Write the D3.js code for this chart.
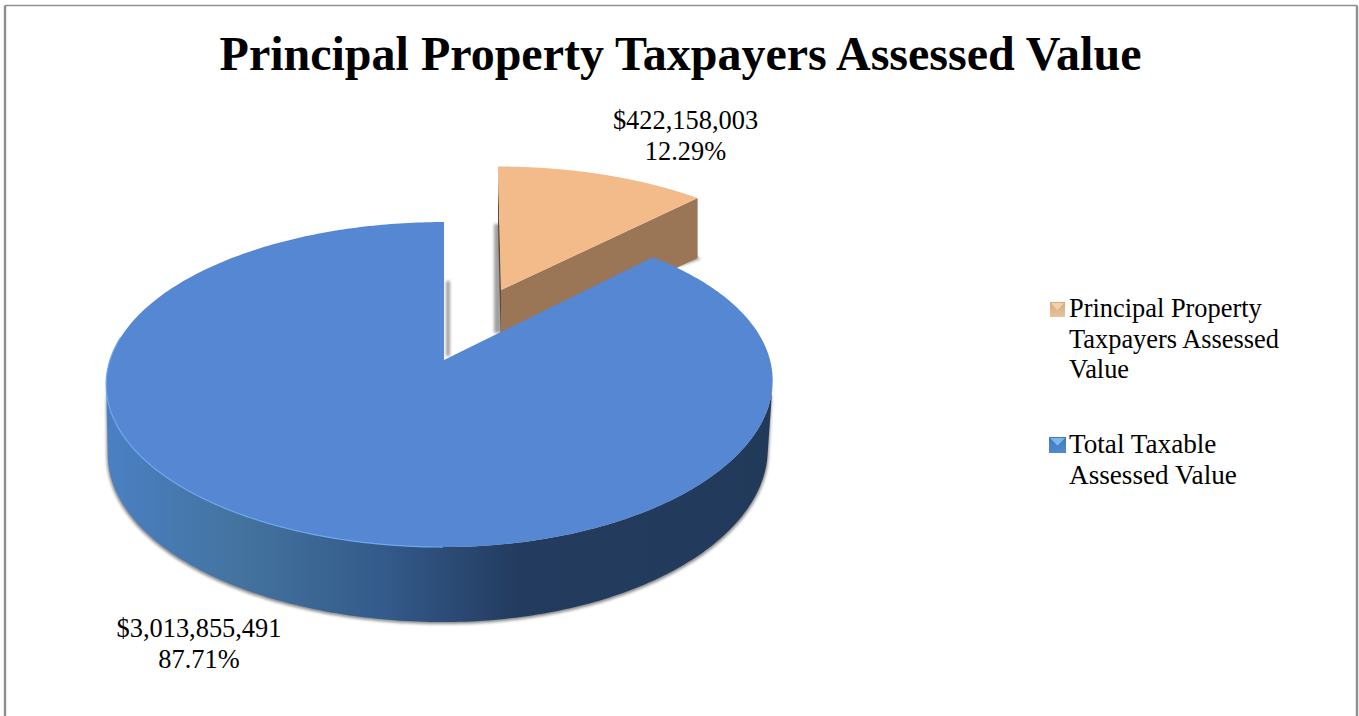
<!DOCTYPE html>
<html><head><meta charset="utf-8">
<script src="https://cdnjs.cloudflare.com/ajax/libs/d3/7.8.5/d3.min.js"></script>
<style>html,body{margin:0;padding:0;background:#fff}svg{display:block}text{font-family:"Liberation Serif",serif;fill:#000}</style>
</head><body><script>
const titleText = "Principal Property Taxpayers Assessed Value";
const categories = ["Principal Property Taxpayers Assessed Value","Total Taxable Assessed Value"];
const values = [422158003,3013855491];
const percents = ["12.29%","87.71%"];
const dollars = ["$422,158,003","$3,013,855,491"];
const legendLines = [["Principal Property","Taxpayers Assessed","Value"],["Total Taxable","Assessed Value"]];

const W=1359,H=716;
const svg=d3.select("body").append("svg").attr("width",W).attr("height",H);
const defs=svg.append("defs");
const blur=defs.append("filter").attr("id","blur").attr("x","-20%").attr("y","-20%").attr("width","140%").attr("height","140%");
blur.append("feGaussianBlur").attr("stdDeviation",1.8);
const wallGrad=defs.append("linearGradient").attr("id","wall").attr("gradientUnits","userSpaceOnUse").attr("x1",106).attr("x2",773).attr("y1",0).attr("y2",0);
[[0,"#4a80c4"],[0.2,"#44739f"],[0.42,"#335a8a"],[0.62,"#233b5e"],[1,"#223a5a"]].forEach(([o,c])=>wallGrad.append("stop").attr("offset",o).attr("stop-color",c));
[["lgO","#d9a878","#e8c49c"],["lgB","#3f78bd","#4f8ad0"]].forEach(([id,a,b])=>{
  const g=defs.append("linearGradient").attr("id",id).attr("x1",0).attr("x2",0).attr("y1",0).attr("y2",1);
  g.append("stop").attr("offset",0).attr("stop-color",a);g.append("stop").attr("offset",1).attr("stop-color",b);
});

// frame
const frame=[[5,716,5,5.5],[5,5.5,1357,5.5],[1357,5.5,1357,716]];
frame.forEach(([x1,y1,x2,y2])=>svg.append("line").attr("x1",x1).attr("y1",y1).attr("x2",x2).attr("y2",y2).attr("stroke","#8f8f8f").attr("stroke-width",x1===x2?2.4:1.4));

svg.append("text").attr("x",680.5).attr("y",70).attr("text-anchor","middle").attr("font-size",48).attr("font-weight","bold").text(titleText);

// perspective projection of the pie disc
const k=0.151, A=158.8;
function blueTop(a){const u=Math.sin(a),v=Math.cos(a),w=1+k*v,B=u>=0?326+8*v:334;return [444+B*u/w,360-A*v/w];}
function blueBot(a){const u=Math.sin(a),v=Math.cos(a),w=1+k*v,B=u>=0?326+8*v:334,s=u>=0?0.985:0.995,d=u>=0?67.5-7.5*v:69-6*v;return [444+s*B*u/w,360-A*v/w+d];}
function orangeTop(a){const u=Math.sin(a),v=Math.cos(a),w=1+k*v;return [501-3*v+0.957*330*u/w,290-0.895*A*v/w];}
function orangeBot(a){const p=orangeTop(a);return [p[0],p[1]+60];}

const arcs=d3.pie().sort(null).value(d=>d)(values);
const path=d3.line();
const steps=s=>d3.range(0,361).map(i=>s.startAngle+(s.endAngle-s.startAngle)*i/360);
const [oArc,bArc]=arcs;
const oAngles=steps(oArc), bAngles=steps(bArc);
// visible wall runs between the two silhouette tangents of the disc
const sil=Math.asin(k);
const frontAngles=bAngles.filter(a=>a>Math.PI/2+sil&&a<Math.PI*1.5-sil);

// shadows
const gShadow=svg.append("g").attr("filter","url(#blur)").attr("fill","#8a8a8a");
gShadow.append("path").attr("d",path([...frontAngles.map(blueTop),...frontAngles.map(blueBot).map(p=>[p[0]+(p[0]<444?-1:1),p[1]+2]).reverse()])+"Z");
gShadow.append("path").attr("d",path([[494,224],[502,224],[502,333],[494,333]])+"Z").attr("fill","#a0a0a0");
gShadow.append("path").attr("d",path([[446,281],[450,281],[450,356],[446,356]])+"Z").attr("fill","#a0a0a0");
const endB=orangeBot(oArc.endAngle);
gShadow.append("path").attr("d",path([[endB[0]-2,endB[1]-2],[endB[0]+3,endB[1]+1],[674,268],[672,266]])+"Z").attr("fill","#999");

// orange slice
const apexO=[501,290];
const endO=orangeTop(oArc.endAngle);
svg.append("path").attr("d",path([[498,166],apexO,[apexO[0],apexO[1]+60],[498,226]])+"Z").attr("fill","#5f4a36");
svg.append("path").attr("d",path([apexO,endO,endB,[apexO[0],apexO[1]+60]])+"Z").attr("fill","#9b7656");
svg.append("path").attr("d",path([apexO,...oAngles.map(orangeTop)])+"Z").attr("fill","#f4bb8a");

// blue slice
svg.append("path").attr("d",path([...frontAngles.map(blueTop),...frontAngles.map(blueBot).reverse()])+"Z").attr("fill","url(#wall)");
svg.append("path").attr("d",path([[444,360],...bAngles.map(blueTop)])+"Z").attr("fill","#5587d2");
const rim=bAngles.filter(a=>a>Math.PI*1.0&&a<Math.PI*1.55).map(blueTop);
svg.append("path").attr("d",path(rim)).attr("fill","none").attr("stroke","#6fa8ec").attr("stroke-width",1.2);

// data labels
const labelPos=[[685.5,129],[199,637]];
dollars.forEach((d,i)=>{
  const t=svg.append("text").attr("text-anchor","middle").attr("font-size",26.4);
  t.append("tspan").attr("x",labelPos[i][0]).attr("y",labelPos[i][1]).text(d);
  t.append("tspan").attr("x",labelPos[i][0]).attr("y",labelPos[i][1]+31).text(percents[i]);
});

// legend
const legendBase=[317,453];
const swatchBox=[[1050,302,15,15],[1049,437,17,16]];
const swatchTop=["#f0d2ac","#7fb6ea"];
categories.forEach((c,i)=>{
  const [x,y,w,h]=swatchBox[i];
  svg.append("rect").attr("x",x).attr("y",y).attr("width",w).attr("height",h).attr("fill",`url(#${["lgO","lgB"][i]})`);
  svg.append("path").attr("d",path([[x+1,y+1],[x+w-1,y+1],[x+w/2,y+h*0.55]])+"Z").attr("fill",swatchTop[i]);
  legendLines[i].forEach((l,j)=>svg.append("text").attr("x",1069).attr("y",legendBase[i]+j*30.5).attr("font-size",i?27.2:26.4).text(l));
});
</script></body></html>
